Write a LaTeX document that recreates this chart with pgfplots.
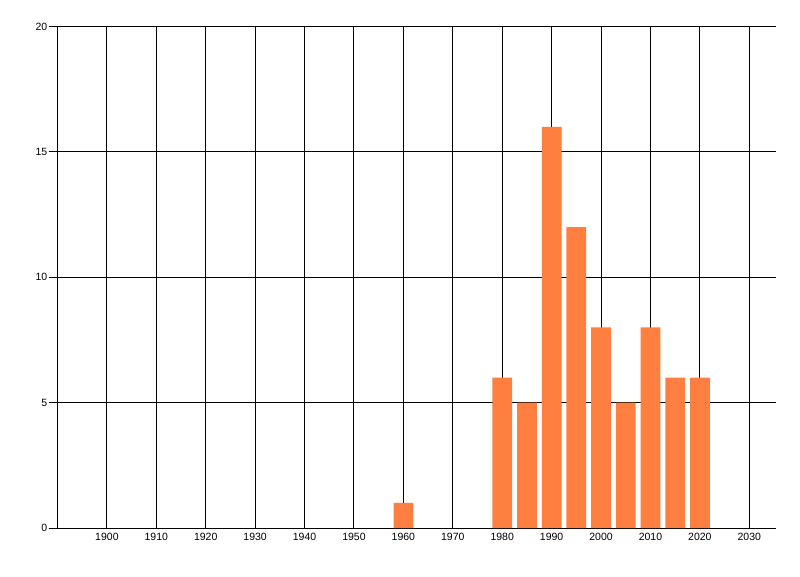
\documentclass[border=0pt]{standalone}
\usepackage{fontspec}
\setmainfont{Liberation Sans}
\usepackage{pgfplots}
\pgfplotsset{compat=1.18}
\definecolor{barorange}{RGB}{255,127,64}

\begin{document}
\begin{tikzpicture}[x=1pt,y=1pt]
  \path[use as bounding box] (0,0) rectangle (800,576);
  \begin{axis}[
    at={(57.5pt,48pt)}, anchor=south west,
    scale only axis,
    width=718pt, height=501.5pt,
    xmin=1890, xmax=2035.3,
    ymin=0, ymax=20,
    axis lines*=left,
    axis line style={black, line width=1pt},
    xtick={1900,1910,...,2030},
    ytick={0,5,10,15,20},
    grid=major,
    major grid style={black, line width=1pt},
    tick align=outside,
    major tick length=9pt,
    ytick style={black, line width=1pt},
    xtick style={draw=none},
    xticklabel style={yshift=7pt},
    yticklabel style={inner sep=1pt},
    ticklabel style={font=\fontsize{10.5}{12}\selectfont},
    /pgf/number format/1000 sep={},
    /pgf/number format/assume math mode=true,
  ]
    \addplot[ybar, bar width=4, bar shift=0pt, fill=barorange, draw=none]
      coordinates {
        (1960,1) (1980,6) (1985,5) (1990,16) (1995,12)
        (2000,8) (2005,5) (2010,8) (2015,6) (2020,6)
      };
  \end{axis}
\end{tikzpicture}
\end{document}
